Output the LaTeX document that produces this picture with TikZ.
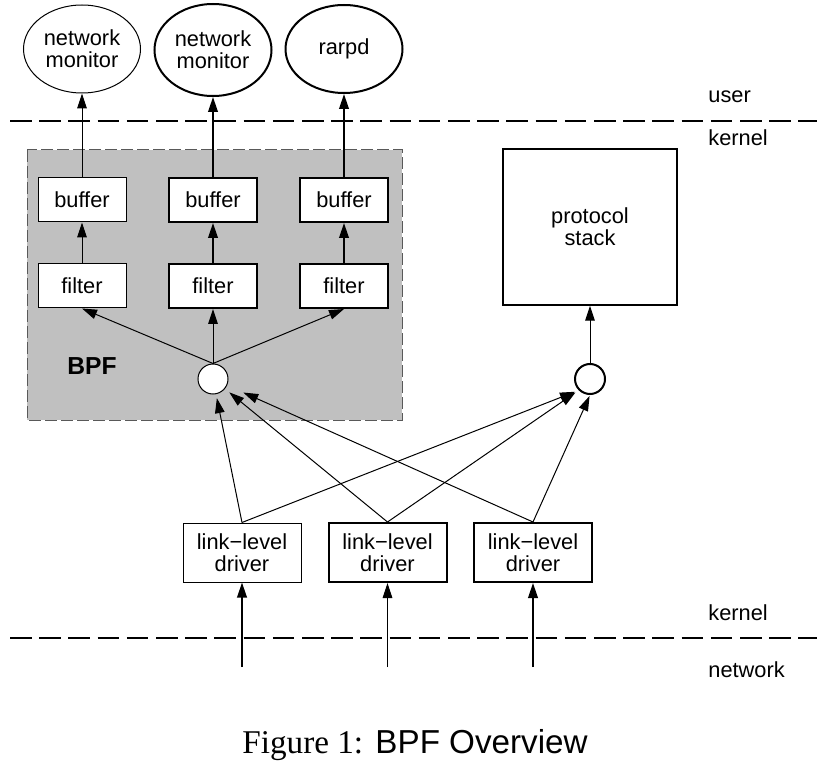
\documentclass[tikz,border=0pt]{standalone}
\usepackage{fontspec}
\setmainfont{Liberation Sans}
\newfontfamily\figfont{Liberation Serif}
\usetikzlibrary{arrows.meta,shapes.geometric}
\definecolor{bpfgray}{RGB}{192,192,192}

\begin{document}
\begin{tikzpicture}[x=0.5pt,y=-0.5pt,
	font=\fontsize{10.9}{11}\selectfont,
	tip/.style={-{Triangle[length=7.5pt,width=4.8pt]}},
	thinline/.style={line width=0.5pt},
	thickline/.style={line width=1pt},
	proc/.style={ellipse,draw,fill=white,minimum width=58.5pt,minimum height=44pt,inner sep=0pt,align=center},
	smallbox/.style={rectangle,draw,fill=white,minimum width=44pt,minimum height=22pt,inner sep=0pt},
	drvbox/.style={rectangle,draw,fill=white,minimum width=59pt,minimum height=29.5pt,inner sep=0pt,align=center},
	tap/.style={circle,draw,fill=white,minimum size=15pt,inner sep=0pt},
	boundary/.style={line width=1pt,dash pattern=on 10.8pt off 3.8pt},
	level/.style={anchor=west,inner sep=0pt}]
	\useasboundingbox (0,0) rectangle (830,770);

	% BPF region
	\draw [fill=bpfgray,draw=black!65,line width=0.5pt,dash pattern=on 6pt off 2pt] (27,150) rectangle (402,420);
	\node [font=\fontsize{12.3}{14}\selectfont\bfseries] (bpf) at (92,366) {BPF};

	% boundaries
	\coordinate (ukl) at (10,121);
	\coordinate (ukr) at (817,121);
	\coordinate (knl) at (10,638);
	\coordinate (knr) at (817,638);
	\draw [boundary] (ukl) -- (ukr);
	\draw [boundary] (knl) -- (knr);
	\node [level] (user) at (708,97) {user};
	\node [level] (kerntop) at (708,138) {kernel};
	\node [level] (kernbot) at (708,613) {kernel};
	\node [level] (net) at (708,670) {network};

	% user processes
	\node [proc,thinline] (mon1) at (82,49) {network\\monitor};
	\node [proc,thickline,minimum height=46pt] (mon2) at (213,50) {network\\monitor};
	\node [proc,thickline] (rarpd) at (344,49) {rarpd};

	% buffers and filters
	\node [smallbox,thinline] (buf1) at (82,200) {buffer};
	\node [smallbox,thickline] (buf2) at (213,200) {buffer};
	\node [smallbox,thickline] (buf3) at (344,200) {buffer};
	\node [smallbox,thinline] (fil1) at (82,286) {filter};
	\node [smallbox,thickline] (fil2) at (213,286) {filter};
	\node [smallbox,thickline] (fil3) at (344,286) {filter};
	\node [tap,thinline] (tap1) at (213,379) {};

	% protocol stack
	\node [rectangle,draw,line width=0.75pt,minimum width=87pt,minimum height=78pt,align=center] (stack) at (590,227) {protocol\\stack};
	\node [tap,thickline] (tap2) at (590,379) {};

	% drivers
	\node [drvbox,thinline] (drv1) at (242,552.5) {link−level\\driver};
	\node [drvbox,thickline] (drv2) at (387.5,552.5) {link−level\\driver};
	\node [drvbox,thickline] (drv3) at (533,552.5) {link−level\\driver};
	\coordinate (in1) at (242,667);
	\coordinate (in2) at (387.5,667);
	\coordinate (in3) at (533,667);

	% connectors
	\draw [tip,thinline] (fil1) -- (buf1);
	\draw [tip,thickline] (fil2) -- (buf2);
	\draw [tip,thickline] (fil3) -- (buf3);
	\draw [tip,thinline] (buf1) -- (mon1);
	\draw [tip,thickline] (buf2) -- (mon2);
	\draw [tip,thickline] (buf3) -- (rarpd);
	\draw [tip,thinline] (tap1.north) -- (fil1.south);
	\draw [tip,thinline] (tap1.north) -- (fil2.south);
	\draw [tip,thinline] (tap1.north) -- (fil3.south);
	\draw [tip,thinline] (tap2) -- (stack);
	\draw [tip,thinline,shorten >=2pt] (drv1.north) -- (tap1);
	\draw [tip,thinline,shorten >=2.75pt] (drv2.north) -- (tap1);
	\draw [tip,thinline,shorten >=8.8pt] (drv3.north) -- (tap1);
	\draw [tip,thinline,shorten >=2pt] (drv1.north) -- (tap2.south west);
	\draw [tip,thinline,shorten >=2pt] (drv2.north) -- (tap2.south west);
	\draw [tip,thinline,shorten >=0.5pt] (drv3.north) -- (tap2.south);
	\draw [tip,thickline] (in1) -- (drv1);
	\draw [tip,thinline] (in2) -- (drv2);
	\draw [tip,thickline] (in3) -- (drv3);

	% caption
	\node [font=\fontsize{16.6}{18}\selectfont] (caption) at (415,745) {{\figfont Figure 1:} BPF Overview};
\end{tikzpicture}
\end{document}
